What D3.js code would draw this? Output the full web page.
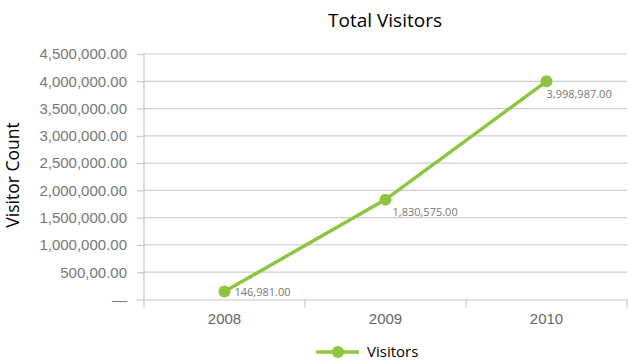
<!DOCTYPE html>
<html lang="en">
<head>
  <meta charset="UTF-8" />
  <title>Total Visitors</title>
  <script src="https://cdn.jsdelivr.net/npm/d3@7"></script>
  <style>
    body { margin: 0; background: #fff; }
    svg { font-family: "Open Sans", sans-serif; }
  </style>
</head>
<body>
  <script>
    const years = ["2008", "2009", "2010"];
    const visitors = [146981, 1830575, 3998987];
    const yTicks = [0, 500000, 1000000, 1500000, 2000000, 2500000, 3000000, 3500000, 4000000, 4500000];
    const yTickLabels = ["\u2014", "500,00.00", "1,000,000.00", "1,500,000.00", "2,000,000.00",
      "2,500,000.00", "3,000,000.00", "3,500,000.00", "4,000,000.00", "4,500,000.00"];
    const seriesName = "Visitors";

    const width = 629, height = 360;
    const green = "#8cc63e";
    const plotLeft = 144, plotRight = 627, plotTop = 54, plotBottom = 299.5;

    const svg = d3.select("body").append("svg")
      .attr("width", width).attr("height", height);

    const x = d3.scaleBand().domain(years).range([plotLeft, plotRight]);
    const y = d3.scaleLinear().domain([0, 4500000]).range([plotBottom, plotTop]);

    // gridlines
    svg.append("g").selectAll("line")
      .data(yTicks.slice(1))
      .enter().append("line")
      .attr("x1", plotLeft).attr("x2", plotRight)
      .attr("y1", d => y(d)).attr("y2", d => y(d))
      .attr("stroke", "#cfcfcf").attr("stroke-width", 1.2);

    // y axis
    const yAxis = d3.axisLeft(y)
      .tickValues(yTicks)
      .tickFormat((d, i) => yTickLabels[i])
      .tickSizeOuter(0)
      .tickSize(7)
      .tickPadding(10);
    const gy = svg.append("g").attr("transform", `translate(${plotLeft},0)`).call(yAxis);
    gy.select(".domain").remove();
    gy.selectAll(".tick line").attr("stroke", "#c8c8c8").attr("stroke-width", 1.2);
    gy.selectAll(".tick text").attr("fill", "#777").style("font-size", "15px");
    svg.append("line")
      .attr("x1", plotLeft).attr("x2", plotLeft)
      .attr("y1", plotTop).attr("y2", plotBottom + 8)
      .attr("stroke", "#c8c8c8").attr("stroke-width", 1.2);

    // x axis
    const xAxis = d3.axisBottom(x).tickSize(0).tickPadding(14);
    const gx = svg.append("g").attr("transform", `translate(0,${plotBottom})`).call(xAxis);
    gx.select(".domain").attr("stroke", "#c8c8c8").attr("stroke-width", 1.2);
    gx.selectAll(".tick text").attr("fill", "#666").style("font-size", "15px");
    gx.selectAll(".sep")
      .data(years.slice(1).concat(["end"]))
      .enter().append("line")
      .attr("x1", (d, i) => i < years.length - 1 ? x(d) : plotRight)
      .attr("x2", (d, i) => i < years.length - 1 ? x(d) : plotRight)
      .attr("y1", 0).attr("y2", 8)
      .attr("stroke", "#c8c8c8").attr("stroke-width", 1.2);

    const data = years.map((yr, i) => ({ year: yr, value: visitors[i] }));
    const cx = d => x(d.year) + x.bandwidth() / 2;

    svg.append("path")
      .datum(data)
      .attr("fill", "none")
      .attr("stroke", green)
      .attr("stroke-width", 3.5)
      .attr("d", d3.line().x(cx).y(d => y(d.value)));

    svg.selectAll(".pt")
      .data(data)
      .enter().append("circle")
      .attr("cx", cx).attr("cy", d => y(d.value))
      .attr("r", 6).attr("fill", green);

    // value labels
    const labelOffsets = [[10, 5], [7, 16], [0, 17]];
    svg.selectAll(".val")
      .data(data)
      .enter().append("text")
      .attr("x", (d, i) => cx(d) + labelOffsets[i][0])
      .attr("y", (d, i) => y(d.value) + labelOffsets[i][1])
      .attr("fill", "#777")
      .style("font-size", "11px")
      .text(d => d3.format(",.2f")(d.value));

    // title
    svg.append("text")
      .attr("x", 385).attr("y", 27)
      .attr("text-anchor", "middle")
      .style("font-size", "19px")
      .text("Total Visitors");

    // y title
    svg.append("text")
      .attr("transform", "translate(19,175) rotate(-90)")
      .attr("text-anchor", "middle")
      .style("font-size", "17.5px")
      .text("Visitor Count");

    // legend
    const lg = svg.append("g").attr("transform", "translate(316,352)");
    lg.append("line").attr("x1", 0).attr("x2", 43)
      .attr("stroke", green).attr("stroke-width", 3.5);
    lg.append("circle").attr("cx", 22).attr("r", 6).attr("fill", green);
    lg.append("text").attr("x", 51).attr("y", 5)
      .style("font-size", "15px")
      .text(seriesName);
  </script>
</body>
</html>
